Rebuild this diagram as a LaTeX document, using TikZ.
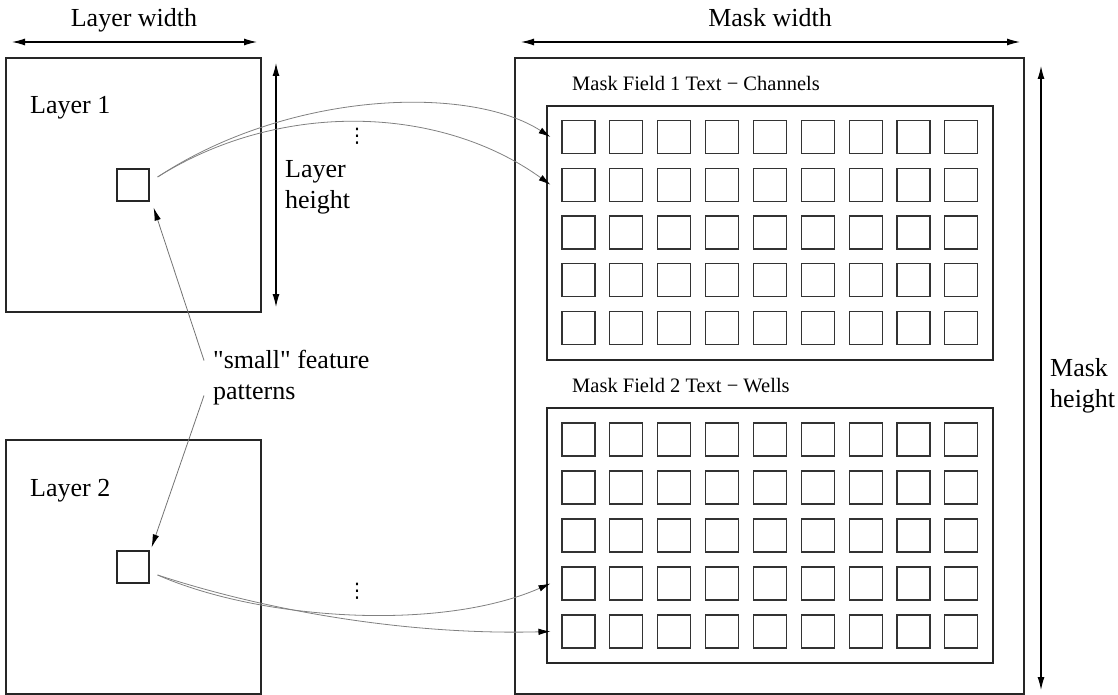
\documentclass[tikz,border=0pt]{standalone}
\usepackage{fontspec}
\setmainfont{Liberation Serif}[Ligatures=TeXOff]
\newfontfamily\symfont{DejaVu Sans}
\usetikzlibrary{arrows.meta}
\begin{document}
\begin{tikzpicture}[x=1pt,y=-1pt,
  bigtxt/.style={font=\fontsize{26}{31}\selectfont, inner sep=0pt},
  fieldtxt/.style={font=\fontsize{20.5}{24}\selectfont, inner sep=0pt},
  frame/.style={draw=black!85, line width=1.2pt, inner sep=0pt},
  cell/.style={draw=black!80, line width=1.1pt, inner sep=0pt, minimum width=33pt, minimum height=33pt},
  dim/.style={draw=black, line width=1.1pt, {Latex[length=13pt,width=7pt]}-{Latex[length=13pt,width=7pt]}},
  link/.style={draw=black!50, line width=0.8pt, -{Latex[length=12pt,width=6.5pt,color=black]}},
  pointer/.style={draw=black!55, line width=0.8pt, -{Latex[length=13pt,width=6.5pt,color=black]}},
  dotsstack/.style={inner sep=0pt, font=\symfont\fontsize{20}{20}\selectfont}
]
\useasboundingbox (0,0) rectangle (1118,695);

% layers
\node[frame, minimum width=255pt, minimum height=254pt] (layer1) at (133.5,185) {};
\node[frame, minimum width=255pt, minimum height=254pt] (layer2) at (133.5,567) {};
\node[frame, minimum width=32pt, minimum height=32pt] (sq1) at (133,185) {};
\node[frame, minimum width=32pt, minimum height=32pt] (sq2) at (133,567) {};
\node[bigtxt, anchor=base west] (l1t) at (30,114) {Layer 1};
\node[bigtxt, anchor=base west] (l2t) at (30,496) {Layer 2};

% mask
\node[frame, minimum width=509pt, minimum height=636pt] (mask) at (769.5,376) {};
\node[frame, minimum width=446pt, minimum height=254pt] (field1) at (770,233) {};
\node[frame, minimum width=446pt, minimum height=255pt] (field2) at (770,535.5) {};
\node[fieldtxt, anchor=base west] (f1t) at (572,91) {Mask Field 1 Text − Channels};
\node[fieldtxt, anchor=base west] (f2t) at (572,392) {Mask Field 2 Text − Wells};

\foreach \r in {1,...,5} {
  \foreach \c in {1,...,9} {
    \node[cell] (fa-\r-\c) at ({578.5+47.85*(\c-1)}, {137+47.75*(\r-1)}) {};
    \node[cell] (fb-\r-\c) at ({578.5+47.85*(\c-1)}, {439.5+48*(\r-1)}) {};
  }
}

% dimension arrows
\coordinate (lwA) at (12,42);
\coordinate (lwB) at (257,42);
\coordinate (lhA) at (276,63);
\coordinate (lhB) at (276,307);
\coordinate (mwA) at (521,42);
\coordinate (mwB) at (1020,42);
\coordinate (mhA) at (1041,66);
\coordinate (mhB) at (1041,690);
\draw[dim] (lwA) -- (lwB);
\draw[dim] (lhA) -- (lhB);
\draw[dim] (mwA) -- (mwB);
\draw[dim] (mhA) -- (mhB);
\node[bigtxt, anchor=base] (lwt) at (134,27) {Layer width};
\node[bigtxt, anchor=base] (mwt) at (770,27) {Mask width};
\node[bigtxt, anchor=west, align=left] (lht) at (285,187.5) {Layer\\height};
\node[bigtxt, anchor=west, align=left] (mht) at (1050,385.5) {Mask\\height};

% feature label and pointers
\node[bigtxt, anchor=west, align=left] (feat) at (213,377.5) {"small" feature\\patterns};
\draw[pointer] ([xshift=-9pt,yshift=17pt]feat.west) -- ([xshift=4pt,yshift=-6pt]sq1.south east);
\draw[pointer] ([xshift=-9pt,yshift=-18pt]feat.west) -- ([xshift=2pt,yshift=3pt]sq2.north east);

% mapping curves
\draw[link] ([xshift=8pt,yshift=8pt]sq1.east) .. controls (290,90) and (470,85) .. ([xshift=-11pt]fa-1-1.west);
\draw[link] ([xshift=8pt,yshift=8pt]sq1.east) .. controls (280,100) and (440,105) .. ([xshift=-11pt]fa-2-1.west);
\draw[link] ([xshift=8pt,yshift=-8pt]sq2.east) .. controls (260,620) and (440,632) .. ([xshift=-11pt]fb-4-1.west);
\draw[link] ([xshift=8pt,yshift=-8pt]sq2.east) .. controls (280,615) and (420,635) .. ([xshift=-11pt]fb-5-1.west);

% ellipses
\node[dotsstack] (dA) at (357,136.5) {⋮};
\node[dotsstack] (dB) at (357,591) {⋮};
\end{tikzpicture}
\end{document}
